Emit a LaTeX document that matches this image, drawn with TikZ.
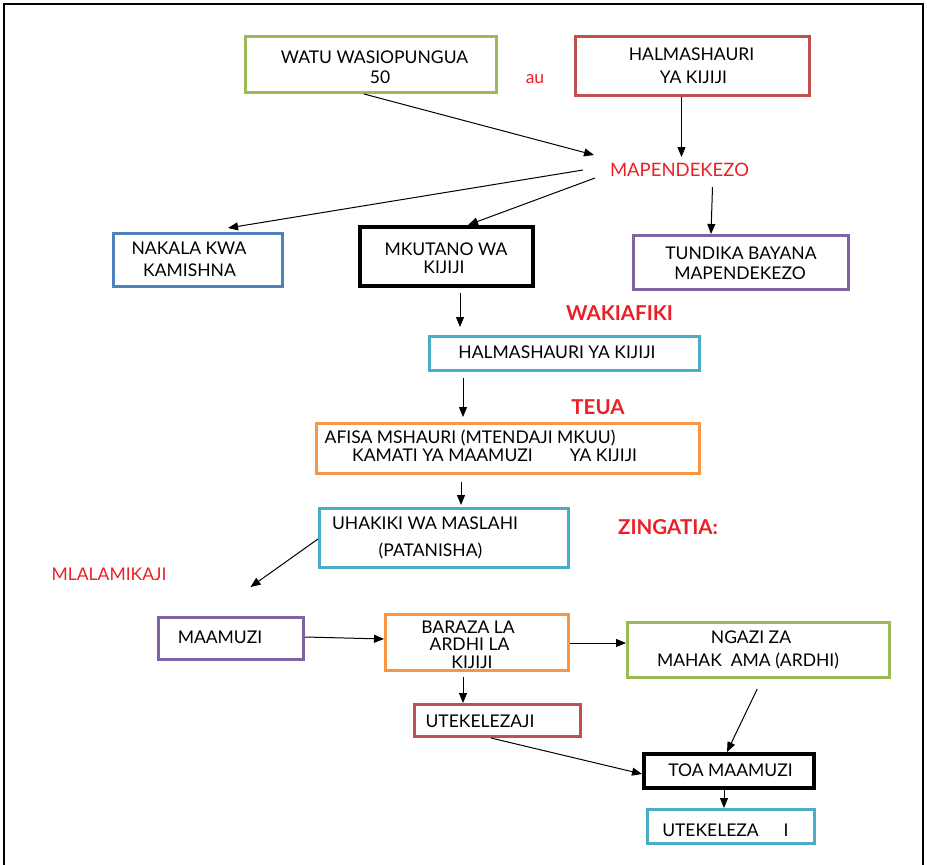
\documentclass[tikz,border=0pt]{standalone}
\usepackage{fontspec}
\setmainfont{Lato}
\usetikzlibrary{arrows.meta,calc}

\definecolor{boxgreen}{RGB}{155,187,89}
\definecolor{boxred}{RGB}{192,80,77}
\definecolor{boxblue}{RGB}{79,129,189}
\definecolor{boxpurple}{RGB}{128,100,162}
\definecolor{boxorange}{RGB}{247,150,70}
\definecolor{boxteal}{RGB}{75,172,198}
\definecolor{labelred}{RGB}{236,30,38}

\tikzset{
  stepbox/.style={draw=#1, line width=3pt, fill=white, inner sep=0pt},
  darkbox/.style={draw=black, line width=4pt, fill=white, inner sep=0pt},
  txt/.style={inner sep=0pt, text height=12.5pt, text depth=0pt,
    font=\fontsize{17.5}{20}\selectfont},
  redlabel/.style={txt, text=labelred},
  biglabel/.style={redlabel, font=\fontsize{18.5}{20}\selectfont},
  boldlabel/.style={txt, text=labelred, text height=14pt,
    font=\fontsize{20.5}{22}\selectfont\bfseries},
  arr/.style={line width=1pt, -{Triangle[length=10pt,width=8pt]}},
}

\begin{document}
\begin{tikzpicture}[x=1pt,y=-1pt]
\useasboundingbox (0,0) rectangle (927,865);

% page frame (open at the bottom)
\draw[line width=1.3pt] (4,865) -- (4,4) -- (923,4) -- (923,865);

% boxes
\node[stepbox=boxgreen,  minimum width=251pt, minimum height=56pt] (watu)    at (371,64.5) {};
\node[stepbox=boxred,    minimum width=234pt, minimum height=59pt] (halm)    at (692.5,66) {};
\node[stepbox=boxblue,   minimum width=169pt, minimum height=53pt] (nakala)  at (198,260) {};
\node[darkbox,           minimum width=173pt, minimum height=59pt] (mkutano) at (446.5,256.5) {};
\node[stepbox=boxpurple, minimum width=215pt, minimum height=54pt] (tundika) at (741,262.5) {};
\node[stepbox=boxteal,   minimum width=270pt, minimum height=34pt] (halmb)   at (564.5,353.5) {};
\node[stepbox=boxorange, minimum width=383pt, minimum height=50pt] (afisa)   at (508,448.5) {};
\node[stepbox=boxteal,   minimum width=249pt, minimum height=59pt] (uhakiki) at (444,538) {};
\node[stepbox=boxpurple, minimum width=145pt, minimum height=42pt] (maamuzi) at (231,638.5) {};
\node[stepbox=boxorange, minimum width=183pt, minimum height=56pt] (baraza)  at (477,642.5) {};
\node[stepbox=boxgreen,  minimum width=262pt, minimum height=55pt] (ngazi)   at (758.5,650) {};
\node[stepbox=boxred,    minimum width=166pt, minimum height=32pt] (utekj)   at (497.5,720.5) {};
\node[darkbox,           minimum width=170pt, minimum height=34pt] (toa)     at (729,771) {};
\node[stepbox=boxteal,   minimum width=167pt, minimum height=34pt] (utek)    at (731,826.5) {};

% box texts
\node[txt] (watu1) at (374.5,57) {WATU WASIOPUNGUA};
\node[txt] (watu2) at (380,77) {50};
\node[txt] (halm1) at (691.5,54) {HALMASHAURI};
\node[txt] (halm2) at (693.5,77) {YA KIJIJI};
\node[txt] (nak1) at (189,248) {NAKALA KWA};
\node[txt] (nak2) at (189.5,270) {KAMISHNA};
\node[txt] (mku1) at (446,249) {MKUTANO WA};
\node[txt] (mku2) at (444,267) {KIJIJI};
\node[txt] (tun1) at (741,253) {TUNDIKA BAYANA};
\node[txt] (tun2) at (740,273) {MAPENDEKEZO};
\node[txt] (hb1) at (557,352) {HALMASHAURI YA KIJIJI};
\node[txt] (af1) at (470,437) {AFISA MSHAURI (MTENDAJI MKUU)};
\node[txt] (af2) at (442.5,455) {KAMATI YA MAAMUZI};
\node[txt] (af3) at (603.5,455) {YA KIJIJI};
\node[txt] (uh1) at (425,523) {UHAKIKI WA MASLAHI};
\node[txt] (uh2) at (430.5,550) {(PATANISHA)};
\node[txt] (ma1) at (220,637) {MAAMUZI};
\node[txt] (ba1) at (468,627) {BARAZA LA};
\node[txt] (ba2) at (469.5,644) {ARDHI LA};
\node[txt] (ba3) at (472,662) {KIJIJI};
\node[txt] (ng1) at (751,637) {NGAZI ZA};
\node[txt] (ng2) at (748,660) {MAHAK\ \ AMA (ARDHI)};
\node[txt] (uj1) at (480,721) {UTEKELEZAJI};
\node[txt] (to1) at (730.5,770) {TOA MAAMUZI};
\node[txt] (ut1) at (710.5,830) {UTEKELEZA};
\node[txt] (ut2) at (786,830) {I};

% red labels
\node[redlabel] (au)   at (535,77) {au};
\node[biglabel] (mapk) at (679.5,170) {MAPENDEKEZO};
\node[redlabel] (mlal) at (109,574) {MLALAMIKAJI};
\node[boldlabel] (wak)  at (619.5,313) {WAKIAFIKI};
\node[boldlabel] (teua) at (598,407) {TEUA};
\node[boldlabel] (zing) at (668,527) {ZINGATIA:};

% free ends of connectors around the labels
\coordinate (mapinA)  at (594,155);
\coordinate (mapinB)  at (681.5,157);
\coordinate (mapoutA) at (583,170);
\coordinate (mapoutB) at (595,178);
\coordinate (mapoutC) at (712.5,187);
\coordinate (mlalin)  at (250.5,587);

% connectors
\draw[arr] ([xshift=-7pt]watu.south) -- (mapinA);
\draw[arr] ([xshift=-11pt]halm.south) -- (mapinB);
\draw[arr] (mapoutA) -- ([xshift=30pt,yshift=4pt]nakala.north);
\draw[arr] (mapoutB) -- ([xshift=21.5pt]mkutano.north);
\draw[arr] (mapoutC) -- ([xshift=-30pt]tundika.north);
\draw[arr, shorten <=5pt, shorten >=8pt] ([xshift=13.5pt]mkutano.south) -- ([xshift=-104.5pt]halmb.north);
\draw[arr, shorten <=6pt, shorten >=5pt] ([xshift=-101.5pt]halmb.south) -- ([xshift=-45pt]afisa.north);
\draw[arr, shorten <=7pt, shorten >=2pt] ([xshift=-47pt]afisa.south) -- ([xshift=17pt]uhakiki.north);
\draw[arr] ([yshift=-1pt]uhakiki.west) -- (mlalin);
\draw[arr] ([yshift=1.5pt]maamuzi.east) -- ([yshift=3.5pt]baraza.west);
\draw[arr] ([yshift=-0.5pt]baraza.east) -- ([yshift=-0.5pt]baraza.east -| ngazi.west);
\draw[arr, shorten <=5pt] ([xshift=-14pt]baraza.south) -- ([xshift=-34.5pt]utekj.north);
\draw[arr, shorten <=11pt] ([xshift=3.5pt]ngazi.south) -- ([xshift=-2pt]toa.north);
\draw[arr] ([xshift=-6.5pt]utekj.south) -- ([yshift=-3pt]toa.west);
\draw[arr, shorten <=-1pt] ([xshift=-5pt]toa.south) -- ([xshift=-7pt]utek.north);
\end{tikzpicture}
\end{document}
